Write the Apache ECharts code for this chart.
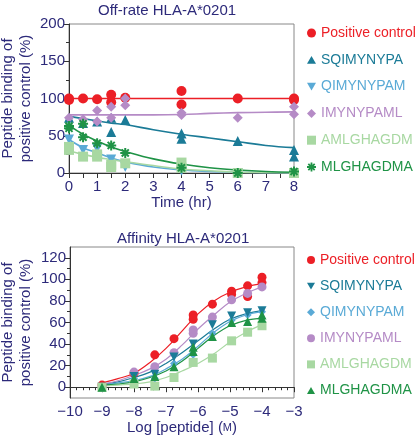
<!DOCTYPE html>
<html><head><meta charset="utf-8">
<script src="https://cdn.jsdelivr.net/npm/echarts@6/dist/echarts.min.js"></script>
<style>html,body{margin:0;padding:0;background:#fff}#c{width:420px;height:438px}</style>
</head><body><div id="c"></div>
<script>
// ---------- Data: Off-rate (top) ----------
const offNames = ['Positive control','SQIMYNYPA','QIMYNYPAM','IMYNYPAML','AMLGHAGDM','MLGHAGDMA'];
const offPositive = [[0,100],[0,98],[0.5,100],[1,99],[1.5,105],[1.5,95],[2,101],[4,110],[4,92],[6,100],[8,100],[8,98]];
const offSQ = [[0,74],[0.5,67],[1,69],[1.5,74],[1.5,55],[2,71],[4,53],[4,46],[6,43],[8,31],[8,22]];
const offQI = [[0,45],[0.5,31],[1,33],[1.5,18],[2,8],[4,3],[6,0],[8,0]];
const offIM = [[0,74],[0.5,72],[1,84],[1.5,89],[1.5,74],[1,69],[2,100],[2,91],[4,81],[4,78],[6,74],[8,89],[8,79]];
const offAM = [[0,35],[0,31],[0.5,22],[1,22],[1,25],[1.5,8],[1.5,11],[2,13],[4,14],[4,7],[6,0],[8,0]];
const offML = [[0,63],[0,60],[0.5,48],[0.5,66],[1,40],[1.5,37],[2,27],[4,7],[6,0],[8,2]];
// fitted curves
const offFitX = [0,0.5,1,1.5,2,3,4,5,6,7,8];
const offFitPositive = [100,100,100,100,100,100,100,100,100,100,100];
const offFitSQ = [76,73,70,67,65,58,52,47,42,37,34];
const offFitQI = [45,34,27,20,15,8,4,2,1,0.5,0];
const offFitIM = [78,78,78,78,78,78,78.5,80,81,81.5,82];
const offFitAM = [30,25,21,18,15,10,5,3,1,0.5,0];
const offFitML = [64,52,43,35,29,19,12,7,4,2,1];

// ---------- Data: Affinity (bottom) ----------
const affPositive = [[-9,2],[-8,13],[-7.35,30],[-6.75,45],[-6.15,67],[-6.15,63],[-5.55,77],[-4.95,89],[-4.95,86],[-4.45,94],[-4.45,84],[-4,102],[-4,97]];
const affSQ = [[-9,0],[-8,10],[-7.35,12],[-6.75,28],[-6.15,40],[-5.55,58],[-4.95,66],[-4.45,69],[-4,71]];
const affQI = [[-9,0],[-8,8],[-7.35,8],[-6.75,22],[-6.15,30],[-5.55,50],[-4.95,62],[-4.45,67],[-4,70]];
const affIM = [[-9,0],[-8,14],[-7.35,19],[-6.75,32],[-6.15,53],[-6.15,50],[-5.55,65],[-4.95,81],[-4.45,87],[-4,93]];
const affAM = [[-9,0],[-8,3],[-7.35,1],[-6.75,9],[-6.15,23],[-5.55,27],[-4.95,43],[-4.45,51],[-4,57]];
const affML = [[-9,0],[-8,8],[-7.35,10],[-6.75,19],[-6.15,33],[-6.15,37],[-5.55,47],[-4.95,60],[-4.45,61],[-4,64],[-4,67]];
const affFitX = [-9,-8.5,-8,-7.5,-7,-6.5,-6,-5.5,-5,-4.5,-4];
const affFitPositive = [4,8,13,23,36,52,68,80,88,93,96];
const affFitSQ = [3,5,9,14,22,32,43,54,63,68,71];
const affFitQI = [2,4,6,10,17,26,38,51,61,67,70];
const affFitIM = [3,6,11,17,26,39,54,67,79,87,93];
const affFitAM = [1,2,3,5,9,15,22,31,42,51,58];
const affFitML = [2,3,5,9,15,24,36,48,57,62,64];

// ticks
const affYTicks = [0,20,40,60,80,100,120];
const affYMinor = [10,30,50,70,90,110];

// ---------- Styles ----------
const C = {red:'#ec1f26', teal:'#1b7b97', blue:'#5aaad6', lav:'#b58bc6', pale:'#a8d8a2', green:'#1f9346'};
const NAVY = '#2d2a7a';
const FONT = 'Liberation Sans, Arial, sans-serif';
const AST = 'path://M-1,-5 L1,-5 L1,5 L-1,5 Z M-5,-1 L5,-1 L5,1 L-5,1 Z M-4.24,-2.83 L-2.83,-4.24 L4.24,2.83 L2.83,4.24 Z M-2.83,4.24 L-4.24,2.83 L2.83,-4.24 L4.24,-2.83 Z';
const DOWN = 'path://M-5,0 L5,0 L0,8.66 Z';
const UP = 'path://M0,0 L5,8.66 L-5,8.66 Z';
const DIAM = 'path://M0,-5 L5,0 L0,5 L-5,0 Z';

const offStyle = [
  {c:C.red, s:'circle', z:9},
  {c:C.teal, s:UP, z:10},
  {c:C.blue, s:DOWN, z:9},
  {c:C.lav, s:DIAM, z:10},
  {c:C.pale, s:'rect', z:9},
  {c:C.green, s:AST, z:11}
];
const affStyle = [
  {c:C.red, s:'circle', z:8},
  {c:C.teal, s:DOWN, z:9},
  {c:C.blue, s:DIAM, z:7},
  {c:C.lav, s:'circle', z:8},
  {c:C.pale, s:'rect', z:9},
  {c:C.green, s:UP, z:10}
];
const offPts = [offPositive, offSQ, offQI, offIM, offAM, offML];
const offFits = [offFitPositive, offFitSQ, offFitQI, offFitIM, offFitAM, offFitML];
const affPts = [affPositive, affSQ, affQI, affIM, affAM, affML];
const affFits = [affFitPositive, affFitSQ, affFitQI, affFitIM, affFitAM, affFitML];

const series = [];
offNames.forEach((n,i)=>{
  series.push({type:'line', name:'fitA'+i, xAxisIndex:0, yAxisIndex:0, smooth:0.4, showSymbol:false, silent:true,
    data: offFitX.map((x,k)=>[x, offFits[i][k]]), lineStyle:{color:offStyle[i].c, width:1.6}, z:3});
  series.push({type:'scatter', name:n, xAxisIndex:0, yAxisIndex:0, data:offPts[i],
    symbol:offStyle[i].s, symbolSize:10, itemStyle:{color:offStyle[i].c, opacity:1}, z:offStyle[i].z});
});
offNames.forEach((n,i)=>{
  series.push({type:'line', name:'fitB'+i, xAxisIndex:1, yAxisIndex:1, smooth:0.4, showSymbol:false, silent:true,
    data: affFitX.map((x,k)=>[x, affFits[i][k]]), lineStyle:{color:affStyle[i].c, width:1.2}, z:3});
  series.push({type:'scatter', name:n, xAxisIndex:1, yAxisIndex:1, data:affPts[i],
    symbol:affStyle[i].s, symbolSize: (affStyle[i].s===DIAM?8:9), itemStyle:{color:affStyle[i].c, opacity:1}, z:affStyle[i].z});
});

const axLine = {show:true, lineStyle:{color:'#333', width:1}};
const lbl = {color:NAVY, fontSize:15, fontFamily:FONT};
const minus = v => String(v).replace('-', '\u2212');

const legendBase = {orient:'vertical', left:307, padding:0, itemWidth:9, itemHeight:9, itemGap:10.8,
  selectedMode:false, textStyle:{fontSize:14, fontFamily:FONT, lineHeight:16}};

const option = {
  animation:false,
  title:[
    {text:'Off-rate HLA-A*0201', left:98, top:3, padding:0, textStyle:{color:NAVY, fontSize:15, fontWeight:'normal', fontFamily:FONT}},
    {text:'Affinity HLA-A*0201', left:117, top:231, padding:0, textStyle:{color:NAVY, fontSize:15, fontWeight:'normal', fontFamily:FONT}}
  ],
  legend:[
    Object.assign({}, legendBase, {top:25, data: offNames.map((n,i)=>({name:n, icon:offStyle[i].s, itemStyle:{color:offStyle[i].c}, textStyle:{color:offStyle[i].c}}))}),
    Object.assign({}, legendBase, {top:252, itemWidth:8, itemHeight:8, itemGap:10.1, data: offNames.map((n,i)=>({name:n, icon:affStyle[i].s, itemStyle:{color:affStyle[i].c}, textStyle:{color:affStyle[i].c}}))})
  ],
  grid:[
    {left:69, right:126, top:24, bottom:265, show:true, borderColor:'#888', borderWidth:1, containLabel:false, outerBoundsMode:'none'},
    {left:70, right:126, top:247, bottom:40, show:true, borderColor:'#888', borderWidth:1, containLabel:false, outerBoundsMode:'none'}
  ],
  xAxis:[
    {type:'value', gridIndex:0, min:0, max:8, interval:1, name:'Time (hr)', nameLocation:'middle', nameGap:22,
      nameTextStyle:{color:NAVY, fontSize:15, fontFamily:FONT},
      axisLine:axLine, axisTick:{show:true, inside:false, length:5, lineStyle:{color:'#333'}},
      minorTick:{show:true, splitNumber:2, length:5, lineStyle:{color:'#333'}},
      splitLine:{show:false}, axisLabel:Object.assign({}, lbl, {margin:6})},
    {type:'value', gridIndex:1, min:-10, max:-3, interval:1,
      name:'Log [peptide] ({s|M})', nameLocation:'middle', nameGap:22,
      nameTextStyle:{color:NAVY, fontSize:15, fontFamily:FONT, rich:{s:{fontSize:11, color:NAVY, fontFamily:FONT}}},
      axisLine:axLine, axisTick:{show:true, length:5, lineStyle:{color:'#333'}},
      minorTick:{show:true, splitNumber:5, length:3, lineStyle:{color:'#333'}},
      splitLine:{show:false}, axisLabel:Object.assign({}, lbl, {margin:6, formatter:minus})}
  ],
  yAxis:[
    {type:'value', gridIndex:0, min:0, max:200, interval:50,
      name:'Peptide binding of\npositive control (%)', nameLocation:'middle', nameGap:34, nameMoveOverlap:false,
      nameTextStyle:{color:NAVY, fontSize:15, fontFamily:FONT, lineHeight:18},
      axisLine:axLine, axisTick:{show:true, length:5, lineStyle:{color:'#333'}},
      minorTick:{show:true, splitNumber:2, length:3, lineStyle:{color:'#333'}},
      splitLine:{show:false}, axisLabel:Object.assign({}, lbl, {margin:4})},
    {type:'value', gridIndex:1, min:-10, max:130, position:'left',
      name:'Peptide binding of\npositive control (%)', nameLocation:'middle', nameGap:35, nameMoveOverlap:false,
      nameTextStyle:{color:NAVY, fontSize:15, fontFamily:FONT, lineHeight:18},
      axisLine:axLine, axisTick:{show:true, length:5, customValues:affYTicks, lineStyle:{color:'#333'}},
      splitLine:{show:false}, axisLabel:Object.assign({}, lbl, {margin:4, customValues:affYTicks})},
    {type:'value', gridIndex:1, min:-10, max:130, position:'left', offset:0,
      axisLine:{show:false}, axisTick:{show:true, length:3, customValues:affYMinor, lineStyle:{color:'#333'}},
      splitLine:{show:false}, axisLabel:{show:false, customValues:affYMinor}}
  ],
  series: series
};
const chart = echarts.init(document.getElementById('c'), null, {renderer:'canvas'});
chart.setOption(option);
</script></body></html>
